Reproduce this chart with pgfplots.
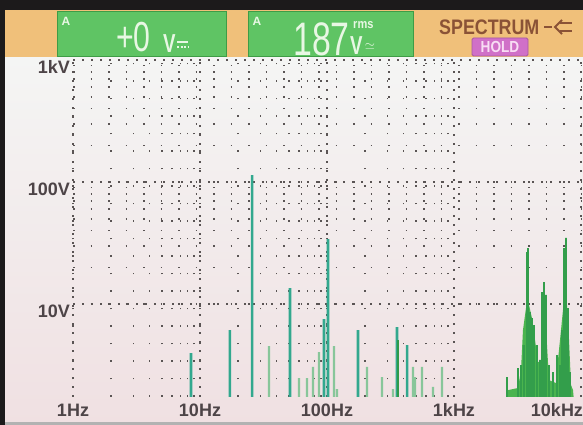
\documentclass[border=0pt]{standalone}
\usepackage{pgfplots}
\pgfplotsset{compat=1.18}
\usepackage{fontspec}
\setmainfont{Liberation Sans}
\newfontfamily\hdr{Liberation Sans}[FakeStretch=0.85]
\newfontfamily\seg{Liberation Sans}[FakeStretch=0.72]
\definecolor{bezel}{HTML}{1C1A1B}
\definecolor{band}{HTML}{F0C07A}
\definecolor{boxg}{HTML}{5FC464}
\definecolor{boxgd}{HTML}{3E9C46}
\definecolor{boxtxt}{HTML}{E8F7E4}
\definecolor{bgtop}{HTML}{F4F5F4}
\definecolor{bgbot}{HTML}{F0E0E2}
\definecolor{lab}{HTML}{4D4447}
\definecolor{spec}{HTML}{8A5236}
\definecolor{holdbox}{HTML}{D070C8}
\definecolor{holdtxt}{HTML}{F8DDF4}
\definecolor{gridc}{HTML}{5A5454}
\definecolor{teal}{HTML}{32A88E}
\definecolor{lgreen}{HTML}{88C69A}
\definecolor{dgreen}{HTML}{2F9A4A}
\definecolor{fillg}{HTML}{4AB44E}
\begin{document}
\begin{tikzpicture}[x=1pt,y=1pt]
\useasboundingbox (0,0) rectangle (583,425);
\shade[top color=bgtop, bottom color=bgbot] (0,0) rectangle (583,368);
\fill[band] (0,368) rectangle (583,415);
\fill[bezel] (0,415) rectangle (583,425);
\fill[bezel] (0,0) rectangle (5,425);
\fill[gray!60] (5,0) rectangle (583,3);
% header boxes
\filldraw[fill=boxg, draw=boxgd, line width=1pt] (57,368) rectangle (226,413);
\filldraw[fill=boxg, draw=boxgd, line width=1pt] (248,368) rectangle (413,413);
\node[anchor=center, text=boxtxt, font=\bfseries\fontsize{12}{12}\selectfont] at (66,404) {A};
\node[anchor=base west, inner sep=0pt, text=boxtxt, font=\seg\fontsize{42}{42}\selectfont] at (116,373) {+0};
\node[anchor=base west, inner sep=0pt, text=boxtxt, font=\seg\bfseries\fontsize{26}{26}\selectfont] at (163,372) {V};
\draw[boxtxt, line width=1.6pt] (177,383) -- (188,383);
\draw[boxtxt, line width=1.6pt, dash pattern=on 2pt off 1.5pt] (177,378) -- (188,378);
\node[anchor=center, text=boxtxt, font=\bfseries\fontsize{12}{12}\selectfont] at (257,404) {A};
\node[anchor=base west, inner sep=0pt, text=boxtxt, font=\seg\fontsize{47}{47}\selectfont] at (293,369) {187};
\node[anchor=base west, inner sep=0pt, text=boxtxt, font=\seg\bfseries\fontsize{26}{26}\selectfont] at (350,370) {V};
\node[anchor=base west, inner sep=0pt, text=boxtxt, font=\hdr\bfseries\fontsize{13}{13}\selectfont] at (353,396) {rms};
\node[anchor=center, inner sep=0pt, text=boxtxt, scale=1.3] at (370,379) {$\simeq$};
% spectrum / hold
\node[anchor=base west, inner sep=0pt, text=spec, font=\hdr\bfseries\fontsize{21}{21}\selectfont] at (439,390) {SPECTRUM};
\draw[spec, line width=2pt] (544,398) -- (552,398);
\draw[spec, line width=2pt] (562,405) -- (555,398) -- (562,391);
\draw[spec, line width=2pt] (560,402) -- (572,402);
\draw[spec, line width=2pt] (560,394) -- (572,394);
\filldraw[fill=holdbox, draw=holdbox!80!black, line width=0.8pt, rounded corners=1.5pt] (472,369) rectangle (528,387);
\node[anchor=center, text=holdtxt, font=\hdr\bfseries\fontsize{16}{16}\selectfont] at (500,378) {HOLD};
\begin{axis}[
  at={(73pt,28pt)}, anchor=south west,
  scale only axis, width=510pt, height=340pt,
  xmode=log, ymode=log,
  xmin=1, xmax=10370, ymin=1.73, ymax=1060,
  axis line style={draw=none},
  major tick length=0pt, minor tick length=0pt,
  xtick={1,10,100,1000}, xticklabels={1Hz,10Hz,100Hz,1kHz},
  extra x ticks={10000}, extra x tick labels={10kHz},
  extra x tick style={xticklabel style={xshift=-24pt}},
  ytick={10,100,1000}, yticklabels={10V,100V,1kV},
  tick label style={font=\bfseries\fontsize{18}{18}\selectfont, text=lab, inner sep=0pt},
  xticklabel style={anchor=base, yshift=-20pt},
  yticklabel style={anchor=base east, xshift=-3pt, yshift=-13pt},
  xmajorgrids=true, ymajorgrids=true, xminorgrids=true, yminorgrids=true,
  major grid style={gridc, line width=1.6pt, dash pattern=on 1.6pt off 7.4pt},
  minor grid style={gridc, line width=1.5pt, dash pattern=on 1.5pt off 16pt},
  bar/.style={ybar, bar width=#1, bar shift=0pt, draw=none},
]
% right-hand dense cluster (filled envelope)
\addplot[fill=fillg, draw=none] coordinates {
(2567,1.6) (2662,1.97) (3192,2.05) (3371,2.88) (3493,6.12) (3690,9.27)
(3897,9.81) (4111,7.68) (4345,5.07) (4585,3.35) (4841,3.35) (5022,7.39)
(5208,7.68) (5400,4.61) (5598,2.38) (6353,2.25) (6590,3.48) (6960,6.12)
(7345,10.8) (7758,9.81) (8050,5.07) (8346,2.17) (8650,1.97) (8810,1.6)
};
\addplot[bar=1.7pt, fill=dgreen!85!fillg] coordinates {
(2614,2.52) (3192,2.99) (3371,3.16) (3556,4.61) (3757,26.7) (3828,28.8)
(3963,8.60) (4111,7.68) (4266,6.73) (4508,4.61) (4753,3.48) (4931,12.5)
(5116,15.1) (5300,11.9) (5598,3.16) (6026,2.77) (6475,3.82) (6836,3.16)
(7088,6.12) (7345,28.8) (7621,34.8) (7906,9.27) (8191,2.77)
};
% low / mid frequency lines
\addplot[bar=2.6pt, fill=teal] coordinates {
(8.49,3.97) (17.2,6.12) (25.7,114) (51.1,13.5) (94.7,7.54) (101.8,34.1)
(175.4,6.12) (356,6.48) (427,4.61)
};
\addplot[bar=2.3pt, fill=lgreen] coordinates {
(34.9,4.53) (60.2,2.47) (69.6,2.47) (77.6,3.05) (86.5,4.04) (113.5,4.53)
(119.9,2.01) (206.5,3.05) (271,2.52) (331,2.01) (475,3.05) (493,2.52)
(560,3.05) (684,2.09) (805,3.05)
};
\addplot[bar=1.8pt, fill=dgreen] coordinates {(362,5.07)};
\end{axis}
\end{tikzpicture}
\end{document}
